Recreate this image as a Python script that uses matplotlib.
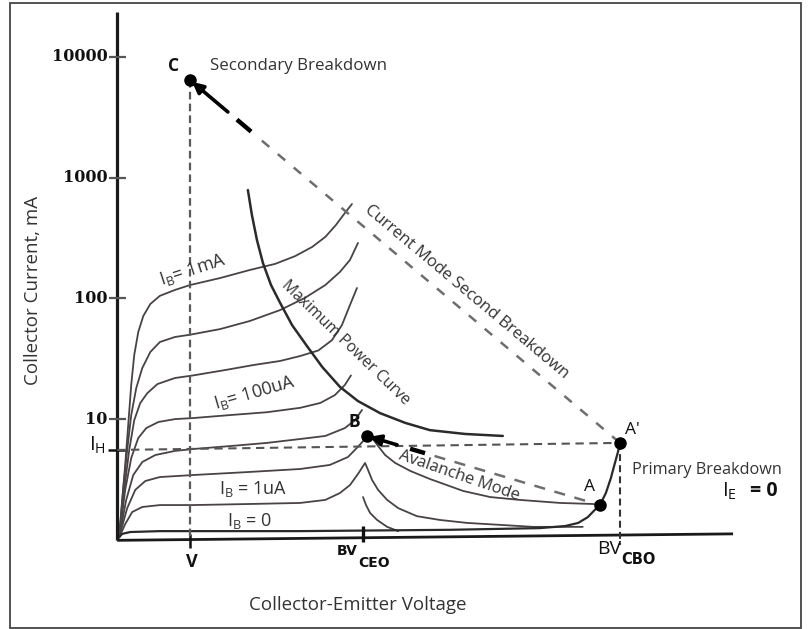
import numpy as np
import matplotlib.pyplot as plt
from matplotlib.patches import Rectangle

plt.rcParams['font.family'] = ['Open Sans', 'DejaVu Sans']
plt.rcParams['lines.scale_dashes'] = False
plt.rcParams['lines.solid_capstyle'] = 'round'
plt.rcParams['lines.solid_joinstyle'] = 'round'

# -----------------------------------------------------------
# Data (voltage in arbitrary units with BV_CBO = 100, current in mA)
# -----------------------------------------------------------

v_mark      = 14.5
bv_ceo      = 48.9
bv_cbo      = 100.0
i_hold      = 5.55

point_c     = (14.5, 6440)
point_b     = (49.7, 7.25)
point_a     = (96.0, 1.94)
point_a2    = (100.0, 6.35)

y_ticks     = [10, 100, 1000, 10000]
y_labels    = ["10", "100", "1000", "10000"]

# base current family
ib1_v = [0.4, 1.0, 1.6, 2.2, 2.8, 3.4, 4.2, 5.2, 6.6, 8.5, 11.5, 14.5, 20.5, 26.4,
         31.4, 35.4, 38.8, 41.4, 43.5, 45.3, 46.7]
ib1_i = [1.05, 2.14, 4.17, 8.93, 19.2, 34, 52.7, 71.5, 89.9, 105, 117.5, 129, 147.5, 172,
         193, 224, 267, 323, 405, 510, 605]

ib2_v = [0.4, 1.2, 2.0, 2.8, 3.8, 5.0, 6.6, 8.5, 11.5, 14.5, 20.5, 26.4, 32.4, 37.3,
         41.4, 44.3, 46.3, 47.9]
ib2_i = [1.05, 2.59, 5.55, 10.8, 18.1, 26.5, 36, 43.5, 47.9, 50, 55.7, 65, 80, 100.7,
         129, 165.5, 208, 288]

ib3_v = [0.4, 1.4, 2.4, 3.4, 4.6, 6.0, 8.0, 11.5, 15.1, 21.5, 27.0, 32.4, 36.4, 40.0,
         42.7, 44.7, 46.3, 47.7]
ib3_i = [1.05, 2.59, 5.55, 9.8, 13.6, 16.4, 19.5, 21.9, 23, 25.5, 28, 30.3, 33.3, 37,
         45, 60, 88, 122]

ib4_v = [0.4, 1.6, 2.8, 4.2, 5.8, 8.2, 11.5, 15.1, 22.5, 29.8, 36.4, 40.4, 43.3, 45.3, 46.5]
ib4_i = [1.05, 2.59, 4.76, 6.97, 8.43, 9.46, 10.0, 10.2, 10.8, 11.4, 12.4, 13.6, 15.8, 19.2, 23]

ib5_v = [0.4, 1.8, 3.2, 5.0, 7.6, 11.5, 15.1, 22.5, 29.8, 36.4, 41.4, 45.3, 47.3, 48.7]
ib5_i = [1.05, 2.14, 3.44, 4.41, 5.04, 5.45, 5.65, 5.98, 6.35, 6.84, 7.25, 8.43, 9.8, 11.9]

ib6_v = [0.4, 2.0, 3.6, 5.6, 8.5, 15.1, 26.4, 36.4, 42.3, 45.9, 47.9, 49.1, 49.7,
         50.7, 51.9, 53.3, 55.3, 58.3, 62.2, 68.8, 74.2, 80.1, 88.1, 94.6, 96.0]
ib6_i = [1.05, 1.83, 2.59, 3.07, 3.31, 3.44, 3.65, 3.86, 4.17, 4.85, 5.9, 6.7, 7.25,
         6.97, 5.98, 5.04, 4.33, 3.72, 3.19, 2.54, 2.26, 2.14, 2.02, 1.98, 1.94]

ib7_v = [0.4, 1.6, 3.0, 5.0, 8.5, 15.1, 26.4, 36.4, 41.4, 44.3, 46.3, 47.9, 49.3,
         49.9, 50.7, 51.9, 53.7, 55.9, 59.6, 64.2, 69.6, 76.1, 82.7, 92.6]
ib7_i = [1.05, 1.35, 1.70, 1.87, 1.94, 1.94, 1.98, 2.02, 2.14, 2.44, 2.84, 3.51, 4.33,
         3.79, 3.13, 2.59, 2.14, 1.83, 1.57, 1.46, 1.38, 1.33, 1.28, 1.28]

cusp_v = [48.9, 49.5, 50.3, 51.7, 53.7, 55.9]
cusp_i = [2.26, 1.94, 1.67, 1.46, 1.28, 1.18]

# I_B = 0 curve running into primary breakdown
ib0_v = [0.2, 1.0, 2.6, 8.5, 36.4, 66.2, 84.1, 89.1, 91.7, 93.6, 95.0, 96.0, 97.2,
         98.2, 99.0, 99.6, 100.0]
ib0_i = [1.03, 1.12, 1.16, 1.18, 1.18, 1.21, 1.25, 1.30, 1.38, 1.54, 1.77, 1.94, 2.44,
         3.25, 4.33, 5.33, 6.35]

# maximum power curve
pmax_v = [26.0, 26.8, 27.8, 29.0, 30.6, 32.4, 34.8, 37.8, 40.8, 44.3, 47.9, 52.3,
          57.3, 62.2, 69.2, 76.7]
pmax_i = [790, 491, 305, 196, 129, 92, 60, 40, 27, 18.5, 14.1, 11.2, 9.3, 8.1, 7.53, 7.25]


def along(p0, p1, t):
    # point at fraction t on a straight line in (V, log I) space
    v = p0[0] + (p1[0] - p0[0]) * t
    i = 10 ** (np.log10(p0[1]) + (np.log10(p1[1]) - np.log10(p0[1])) * t)
    return v, i


# -----------------------------------------------------------
# Plot
# -----------------------------------------------------------

fig = plt.figure(figsize=(8.09, 6.29), dpi=100)
ax = fig.add_axes([0, 0, 1, 1])
ax.set_yscale("log")
ax.set_xlim(-23.3, 137.6)
ax.set_ylim(0.1824, 29650)
ax.axis("off")

fig.patches.append(Rectangle((0.0124, 0.0016), 0.978, 0.9936, transform=fig.transFigure,
                             fill=False, edgecolor="#444444", linewidth=1.3))

curve_col = "#4a4343"
for vv, ii in [(ib1_v, ib1_i), (ib2_v, ib2_i), (ib3_v, ib3_i), (ib4_v, ib4_i),
               (ib5_v, ib5_i), (ib6_v, ib6_i), (ib7_v, ib7_i), (cusp_v, cusp_i)]:
    ax.plot(vv, ii, color=curve_col, linewidth=1.3)
ax.plot(ib0_v, ib0_i, color="#2a2a2a", linewidth=1.6)

ax.plot(pmax_v, pmax_i, color="#2b2b2b", linewidth=1.8)

# axes lines
ax.plot([0, 0], [0.99, 23600], color="#1a1a1a", linewidth=2.3, solid_capstyle="butt")
ax.plot([0, 122.5], [0.99, 1.12], color="#1a1a1a", linewidth=2.0, solid_capstyle="butt")

# y ticks
for yt, lab in zip(y_ticks, y_labels):
    ax.plot([-1.6, 1.8], [yt, yt], color="#555555", linewidth=1.6, solid_capstyle="butt")
    ax.text(-1.9, yt, lab, ha="right", va="center", fontsize=11.5,
            family="DejaVu Serif", weight="bold", color="#111111")
ax.plot([-1.8, 1.6], [i_hold, i_hold], color="#111111", linewidth=1.8, solid_capstyle="butt")

# x ticks
ax.plot([v_mark, v_mark], [1.12, 0.855], color="#111111", linewidth=1.8, solid_capstyle="butt")
ax.plot([bv_ceo, bv_ceo], [1.30, 0.95], color="#111111", linewidth=2.4, solid_capstyle="butt")

# dashed guide lines
ax.plot([v_mark, v_mark], [point_c[1], 1.0], color="#5a5a5a", linewidth=1.6,
        linestyle=(0, (5.5, 3.0)), dash_capstyle="butt")
ax.plot([0, point_a2[0]], [i_hold, point_a2[1]], color="#555555", linewidth=1.5,
        linestyle=(0, (6.0, 4.0)), dash_capstyle="butt")
ax.plot([bv_cbo, bv_cbo], [point_a2[1], 0.9], color="#333333", linewidth=1.5,
        linestyle=(0, (5.0, 3.0)), dash_capstyle="butt")

# current mode second breakdown line C <- A'
g0 = along(point_c, point_a2, 0.167)
ax.plot([g0[0], point_a2[0]], [g0[1], point_a2[1]], color="#6e6e6e", linewidth=1.8,
        linestyle=(0, (7.0, 8.0)), dash_capstyle="butt")
d0 = along(point_c, point_a2, 0.109)
d1 = along(point_c, point_a2, 0.142)
ax.plot([d0[0], d1[0]], [d0[1], d1[1]], color="black", linewidth=3.2, solid_capstyle="butt")
tail = along(point_c, point_a2, 0.088)
ax.annotate("", xy=point_c, xytext=tail,
            arrowprops=dict(arrowstyle="-|>", color="black", lw=2.6,
                            mutation_scale=16, shrinkA=0, shrinkB=2))

# avalanche line B <- A
g0 = along(point_b, point_a, 0.29)
ax.plot([g0[0], point_a[0]], [g0[1], point_a[1]], color="#6e6e6e", linewidth=1.8,
        linestyle=(0, (8.0, 7.0)), dash_capstyle="butt")
d0 = along(point_b, point_a, 0.185)
d1 = along(point_b, point_a, 0.249)
ax.plot([d0[0], d1[0]], [d0[1], d1[1]], color="black", linewidth=3.2, solid_capstyle="butt")
tail = along(point_b, point_a, 0.129)
ax.annotate("", xy=point_b, xytext=tail,
            arrowprops=dict(arrowstyle="-|>", color="black", lw=2.6,
                            mutation_scale=16, shrinkA=0, shrinkB=2))

# points
for p in [point_c, point_b, point_a, point_a2]:
    ax.plot(p[0], p[1], "o", color="black", markersize=8)

# -----------------------------------------------------------
# Labels
# -----------------------------------------------------------
txt = "#333333"
dark = "#111111"
ax.text(11.3, 8420, "C", ha="center", va="center", fontsize=12.5, weight="bold", color=dark)
ax.text(18.5, 8420, "Secondary Breakdown", ha="left", va="center", fontsize=12.2, color=txt)
ax.text(47.1, 9.46, "B", ha="center", va="center", fontsize=12.5, weight="bold", color=dark)
ax.text(94.0, 2.74, "A", ha="center", va="center", fontsize=12.5, color=dark)
ax.text(101.0, 8.1, "A'", ha="left", va="center", fontsize=12.5, color=dark)
ax.text(102.4, 3.79, "Primary Breakdown", ha="left", va="center", fontsize=11.7, color=txt)
ax.text(120.3, 2.54, r"I$_\mathregular{E}$", ha="left", va="center", fontsize=14.5, color=dark)
ax.text(125.8, 2.54, "= 0", ha="left", va="center", fontsize=14, weight="bold", color=dark)

ax.text(95.4, 0.839, "BV", ha="left", va="center", fontsize=14, color=dark)
ax.text(100.2, 0.693, "CBO", ha="left", va="center", fontsize=10.5, weight="bold",
        family="DejaVu Sans", color=dark)
ax.text(43.7, 0.807, "BV", ha="left", va="center", fontsize=10, weight="bold",
        family="DejaVu Sans", color=dark)
ax.text(47.9, 0.643, "CEO", ha="left", va="center", fontsize=10, weight="bold",
        family="DejaVu Sans", color=dark)
ax.text(14.9, 0.655, "V", ha="center", va="center", fontsize=13, weight="bold", color=dark)
ax.text(-2.2, 6.1, r"I$_\mathregular{H}$", ha="right", va="center", fontsize=14.5, color=dark)

ax.text(-16.7, 117, "Collector Current, mA", ha="center", va="center", rotation=90,
        fontsize=13.5, color=txt)
ax.text(47.9, 0.288, "Collector-Emitter Voltage", ha="center", va="center",
        fontsize=13.5, color=txt)

ax.text(15.1, 172, r"I$_\mathregular{B}$= 1mA", ha="center", va="center", rotation=18,
        rotation_mode="anchor", fontsize=13, color=txt)
ax.text(27.4, 16.5, r"I$_\mathregular{B}$= 100uA", ha="center", va="center", rotation=16,
        rotation_mode="anchor", fontsize=13, color=txt)
ax.text(27.0, 2.66, r"I$_\mathregular{B}$ = 1uA", ha="center", va="center",
        fontsize=13, color=txt)
ax.text(26.4, 1.43, r"I$_\mathregular{B}$ = 0", ha="center", va="center",
        fontsize=13, color=txt)
ax.text(45.5, 43, "Maximum Power Curve", ha="center", va="center", rotation=-44,
        rotation_mode="anchor", fontsize=11.3, color=txt)
ax.text(69.4, 113, "Current Mode Second Breakdown", ha="center", va="center", rotation=-40,
        rotation_mode="anchor", fontsize=12, color=txt)
ax.text(68.0, 3.38, "Avalanche Mode", ha="center", va="center", rotation=-19,
        rotation_mode="anchor", fontsize=11.9, color=txt)

fig.savefig("out.png", dpi=100)
